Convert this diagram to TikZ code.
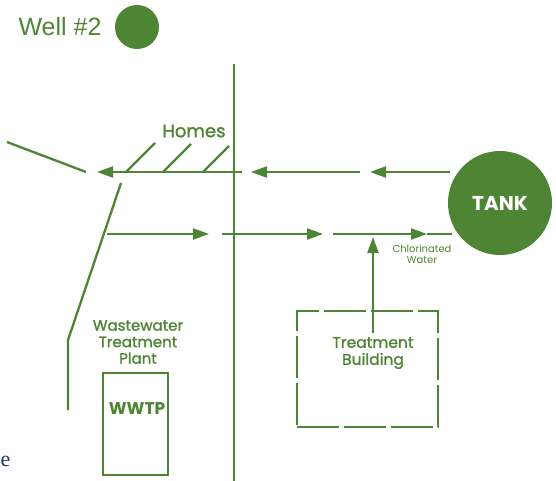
\documentclass[tikz,border=0pt]{standalone}
\usepackage{fontspec}
\setmainfont{Liberation Sans}
\newfontfamily\pop[FakeBold=1.3]{Poppins}
\newfontfamily\popb{Poppins}
\newfontfamily\serifish{Liberation Serif}
\usetikzlibrary{arrows.meta}
\definecolor{grn}{RGB}{78,133,52}
\definecolor{dblue}{RGB}{31,56,100}
\tikzset{
  pipe/.style={draw=grn, line width=2.3pt},
  flow/.style={pipe, -{Triangle[length=16pt,width=11pt]}},
  lbl/.style={text=grn, inner sep=0pt, align=center},
}
\begin{document}
\begin{tikzpicture}[x=1pt,y=-1pt]
\useasboundingbox (0,0) rectangle (556,481);
\fill[white] (0,0) rectangle (556,481);
% Well #2
\node[lbl, font=\fontsize{25}{28}\selectfont] (welltxt) at (60,27) {Well \#2};
\node[circle, fill=grn, minimum size=44pt, inner sep=0pt] (well) at (137,27) {};
% main vertical line
\coordinate (vt) at (234,64);
\coordinate (vb) at (234,481);
\draw[pipe] (vt) -- (vb);
% TANK
\node[circle, fill=grn, minimum size=104pt, inner sep=0pt, text=white,
      font=\popb\bfseries\fontsize{20}{22}\selectfont] (tank) at (500,203) {TANK};
% top line (from tank to homes)
\coordinate (t1) at (450,172);
\coordinate (t2) at (370,172);
\coordinate (t3) at (360,172);
\coordinate (t4) at (251,172);
\coordinate (t5) at (242,172);
\coordinate (t6) at (97,172);
\draw[flow] (t1) -- (t2);
\draw[flow] (t3) -- (t4);
\draw[flow] (t5) -- (t6);
% homes hatches
\foreach \a/\b/\c/\d [count=\i] in {126/172/155/143, 163/172/191/144, 203/172/229/146}{
  \coordinate (h\i a) at (\a,\b);
  \coordinate (h\i b) at (\c,\d);
  \draw[pipe] (h\i a) -- (h\i b);
}
\node[lbl, font=\pop\fontsize{18}{20}\selectfont] (homes) at (194,131) {Homes};
% left diagonal
\coordinate (d1) at (7,142);
\coordinate (d2) at (86,172);
\draw[pipe] (d1) -- (d2);
% left sewer line
\coordinate (s1) at (121,183);
\coordinate (s2) at (68,340);
\coordinate (s3) at (68,410);
\draw[pipe] (s1) -- (s2) -- (s3);
% bottom line (to tank)
\coordinate (b1) at (107,234);
\coordinate (b2) at (209,234);
\coordinate (b3) at (222,234);
\coordinate (b4) at (323,234);
\coordinate (b5) at (333,234);
\coordinate (b6) at (427,234);
\coordinate (b7) at (452,234);
\draw[flow] (b1) -- (b2);
\draw[flow] (b3) -- (b4);
\draw[flow] (b5) -- (b6);
\draw[pipe] (b6) -- (b7);
\node[lbl, font=\popb\fontsize{10}{11.5}\selectfont] (chl) at (422,254) {Chlorinated\\Water};
% treatment building
\node[draw=grn, line width=2.2pt, dash pattern=on 42pt off 5pt,
      minimum width=141pt, minimum height=116pt, inner sep=0pt] (tb) at (367.5,369) {};
\node[lbl, font=\pop\fontsize{15.5}{17}\selectfont] (tbtxt) at (373,353) {Treatment\\Building};
\coordinate (c1) at (373,333);
\coordinate (c2) at (373,237);
\draw[flow] (c1) -- (c2);
% WWTP
\node[lbl, font=\pop\fontsize{15}{16.5}\selectfont] (wwtxt) at (138,342) {Wastewater\\Treatment\\Plant};
\node[draw=grn, line width=2.2pt, minimum width=65pt, minimum height=102pt, inner sep=0pt] (wwtp) at (135.5,424) {};
\node[lbl, font=\popb\bfseries\fontsize{17}{19}\selectfont] (wwtplbl) at (137,409) {WWTP};
% stray letter
\node[text=dblue, inner sep=0pt, anchor=west, font=\serifish\fontsize{22}{24}\selectfont] (e) at (0.5,461) {e};
\end{tikzpicture}
\end{document}
